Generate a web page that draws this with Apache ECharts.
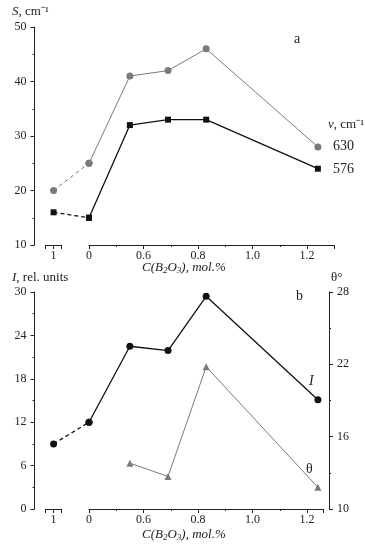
<!DOCTYPE html>
<html><head><meta charset="utf-8">
<script src="https://cdn.jsdelivr.net/npm/echarts@6/dist/echarts.min.js"></script>
<style>html,body{margin:0;padding:0;background:#fff}#c{width:365px;height:550px}</style>
</head><body><div id="c"></div>
<script>
// positions along the concentration axis ("1" and "0" are reference samples)
const xPos = [0.27, 0.4, 0.55, 0.69, 0.83, 1.24];
const mainTickLabels = {0.4: '0', 0.6: '0.6', 0.8: '0.8', 1.0: '1.0', 1.2: '1.2'};
const refTickValue = 0.27, refTickLabel = '1';
const s630 = [20, 25, 41, 42, 46, 28];
const s576 = [16, 15, 32, 33, 33, 24];
const intensity = [9, 12, 22.5, 21.9, 29.4, 15.1];
const thetaX = [0.55, 0.69, 0.83, 1.24];
const theta = [13.8, 12.7, 21.8, 11.8];

const FONT = 'Liberation Serif';
const GRAY = '#7a7a7a', BLACK = '#111';
const pairs = (xs, ys) => xs.map((x, i) => [x, ys[i]]);

const PX = 272.5; // px per unit of x
const L0 = 34.5, XMIN = 0.2, XMAX = 1.3;
const gx = v => L0 + (v - XMIN) * PX;

const hiddenAx = (min, max) => ({type: 'value', min, max, show: false});
const axisLine = {show: true, onZero: false, lineStyle: {color: '#222', width: 1}};
const lbl = {fontFamily: FONT, fontSize: 12, color: '#222'};

function mainX(gi, max) {
  return {type: 'value', gridIndex: gi, min: 0.4, max, interval: 0.2,
    axisLine, splitLine: {show: false},
    axisTick: {show: true, length: 4, lineStyle: {color: '#222'}},
    minorTick: {show: true, splitNumber: 2, length: 2, lineStyle: {color: '#222'}},
    axisLabel: Object.assign({}, lbl, {margin: 5, formatter: v => {
      const k = Math.round(v * 10) / 10; return mainTickLabels[k] !== undefined ? mainTickLabels[k] : ''; }})};
}
function refX(gi) {
  return {type: 'value', gridIndex: gi, min: 0.24, max: 0.30, interval: 0.03,
    axisLine, splitLine: {show: false},
    axisTick: {show: true, length: 4, lineStyle: {color: '#222'}},
    axisLabel: Object.assign({}, lbl, {margin: 5, showMinLabel: true, showMaxLabel: true,
      formatter: v => Math.abs(v - refTickValue) < 1e-6 ? refTickLabel : ''})};
}
function visY(gi, min, max, interval, pos) {
  return {type: 'value', gridIndex: gi, min, max, interval, position: pos || 'left',
    axisLine, splitLine: {show: false},
    axisTick: {show: true, length: 4, lineStyle: {color: '#222'}},
    minorTick: {show: true, splitNumber: 2, length: 2, lineStyle: {color: '#222'}},
    axisLabel: Object.assign({}, lbl, {margin: 8})};
}

const TT = 27, TH = 218, BT = 292, BH = 217;
const grids = [
  {left: L0, top: TT, width: (XMAX - XMIN) * PX, height: TH},            //0 top data
  {left: gx(0.4), top: TT, width: (1.3 - 0.4) * PX, height: TH},          //1 top main x
  {left: gx(0.24), top: TT, width: 0.06 * PX, height: TH},                //2 top ref x
  {left: L0, top: BT, width: (XMAX - XMIN) * PX, height: BH},            //3 bottom data
  {left: gx(0.4), top: BT, width: (1.26 - 0.4) * PX, height: BH},         //4 bottom main x
  {left: gx(0.24), top: BT, width: 0.06 * PX, height: BH},                //5 bottom ref x
  {left: L0, top: BT, width: 329 - L0, height: BH}                        //6 right theta axis
];

const xAxes = [
  Object.assign(hiddenAx(XMIN, XMAX), {gridIndex: 0}),
  mainX(1, 1.3),
  refX(2),
  Object.assign(hiddenAx(XMIN, XMAX), {gridIndex: 3}),
  mainX(4, 1.26),
  refX(5),
  Object.assign(hiddenAx(0, 1), {gridIndex: 6})
];
const yAxes = [
  visY(0, 10, 50, 10),                                   //0 S
  Object.assign(hiddenAx(0, 1), {gridIndex: 1}),         //1
  Object.assign(hiddenAx(0, 1), {gridIndex: 2}),         //2
  visY(3, 0, 30, 6),                                     //3 I
  Object.assign(hiddenAx(10, 28), {gridIndex: 3, position: 'right'}), //4 theta data
  Object.assign(hiddenAx(0, 1), {gridIndex: 4}),         //5
  Object.assign(hiddenAx(0, 1), {gridIndex: 5}),         //6
  visY(6, 10, 28, 6, 'right')                            //7 theta visible
];

function seg(data, xi, yi, color, w, sym, size, dashed) {
  return {type: 'line', xAxisIndex: xi, yAxisIndex: yi, data, symbol: sym, symbolSize: size,
    showSymbol: true, animation: false, silent: true,
    lineStyle: {color, width: w, type: dashed ? [4, 3] : 'solid'},
    itemStyle: {color, borderWidth: 0}};
}
const p630 = pairs(xPos, s630), p576 = pairs(xPos, s576), pI = pairs(xPos, intensity);
const series = [
  seg(p630.slice(0, 2), 0, 0, GRAY, 1, 'circle', 7, true),
  seg(p630.slice(1), 0, 0, GRAY, 1, 'circle', 7, false),
  seg(p576.slice(0, 2), 0, 0, BLACK, 1.3, 'rect', 6, true),
  seg(p576.slice(1), 0, 0, BLACK, 1.3, 'rect', 6, false),
  seg(pI.slice(0, 2), 3, 3, BLACK, 1.3, 'circle', 7, true),
  seg(pI.slice(1), 3, 3, BLACK, 1.3, 'circle', 7, false),
  seg(pairs(thetaX, theta), 3, 4, GRAY, 1, 'triangle', 7, false)
];

const tstyle = (text, extra) => Object.assign({text, fontFamily: FONT, fontSize: 13, fill: '#222'}, extra || {});
const rich = {i: {fontFamily: FONT, fontSize: 13, fontStyle: 'italic', fill: '#222'},
              n: {fontFamily: FONT, fontSize: 13, fill: '#222'},
              s: {fontFamily: FONT, fontSize: 9, fontStyle: 'italic', fill: '#222', padding: [6, 0, 0, 0]}};
const axisTitle = '{i|C(B}{s|2}{i|O}{s|3}{i|), mol.%}';
const graphic = [
  {type: 'text', left: 12, top: 5, style: tstyle('{i|S}{n|, cm⁻¹}', {rich})},
  {type: 'text', left: 294, top: 32, style: tstyle('a', {fontSize: 14})},
  {type: 'text', left: 328, top: 118, style: tstyle('{i|ν}{n|, cm⁻¹}', {rich})},
  {type: 'text', left: 333, top: 139, style: tstyle('630', {fontSize: 14})},
  {type: 'text', left: 333, top: 162, style: tstyle('576', {fontSize: 14})},
  {type: 'text', left: 142, top: 261, style: tstyle(axisTitle, {rich})},
  {type: 'text', left: 12, top: 271, style: tstyle('{i|I}{n|, rel. units}', {rich})},
  {type: 'text', left: 331, top: 271, style: tstyle('θ°', {fontSize: 13})},
  {type: 'text', left: 296, top: 289, style: tstyle('b', {fontSize: 14})},
  {type: 'text', left: 309, top: 374, style: tstyle('I', {fontSize: 14, fontStyle: 'italic'})},
  {type: 'text', left: 306, top: 462, style: tstyle('θ', {fontSize: 14})},
  {type: 'text', left: 142, top: 528, style: tstyle(axisTitle, {rich})}
];

const chart = echarts.init(document.getElementById('c'), null, {renderer: 'canvas'});
chart.setOption({animation: false, backgroundColor: '#fff', grid: grids, xAxis: xAxes, yAxis: yAxes, series, graphic});
</script></body></html>
